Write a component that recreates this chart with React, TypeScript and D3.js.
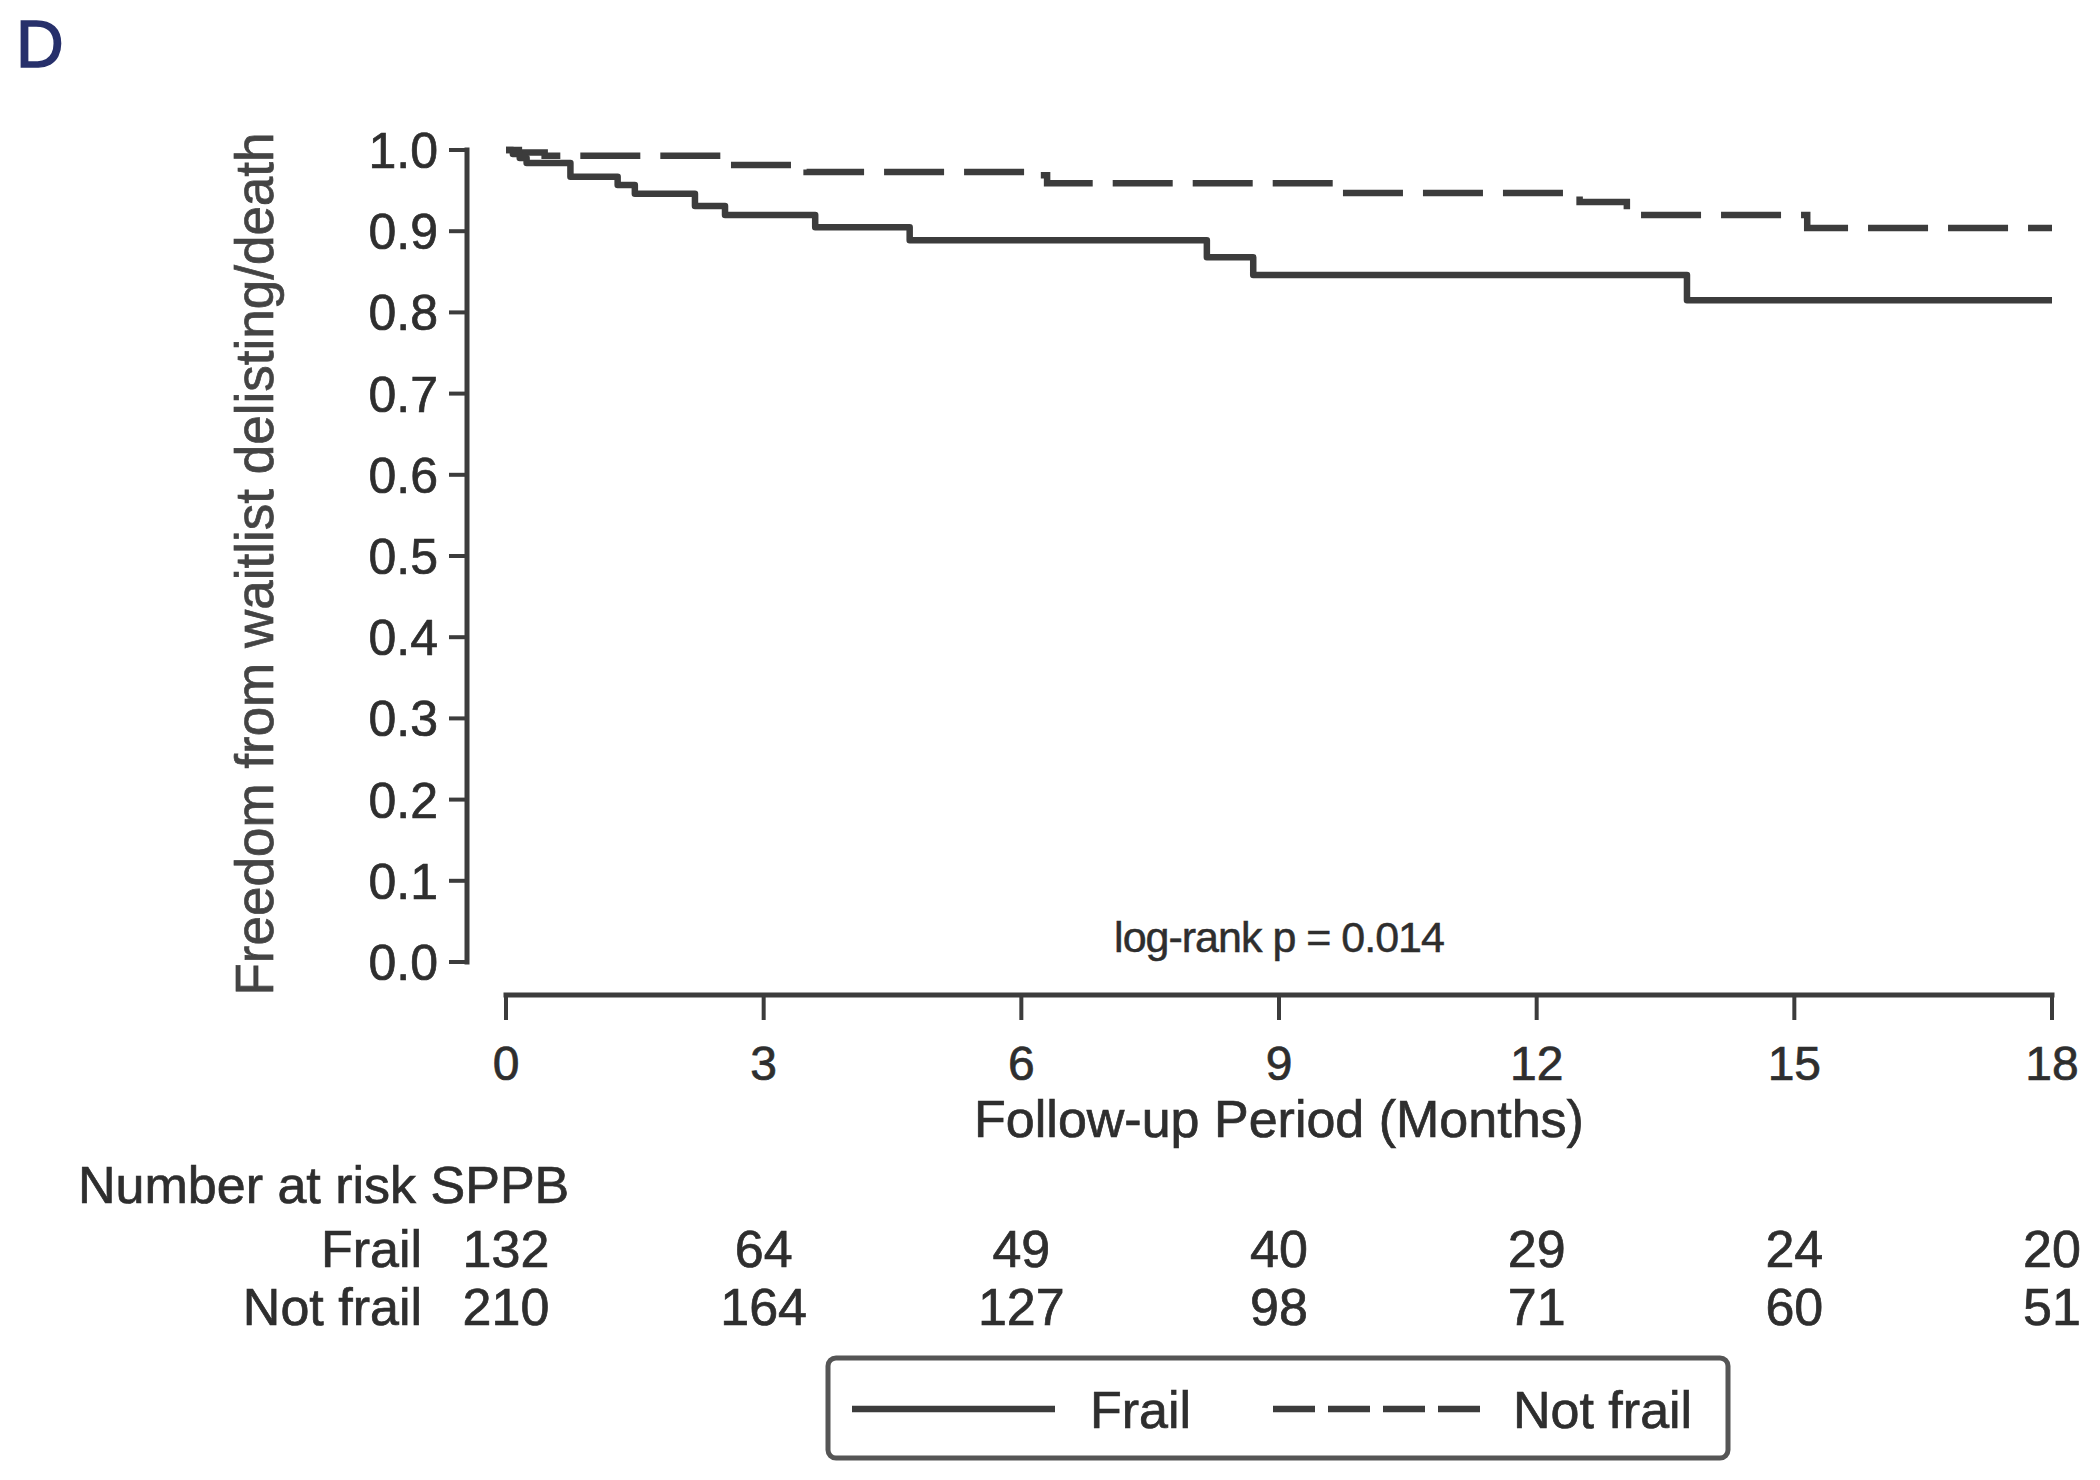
import React, { useEffect } from "react";
import * as d3 from "d3";

// ---- data ----
const frailTimes = [0, 0.08, 0.16, 0.24, 0.75, 1.3, 1.5, 2.2, 2.55, 3.6, 4.7, 8.16, 8.7, 13.75, 18];
const frailSurv = [1.0, 0.995, 0.99, 0.984, 0.967, 0.957, 0.946, 0.931, 0.92, 0.905, 0.889, 0.868, 0.846, 0.815, 0.815];

const notFrailTimes = [0, 0.15, 0.45, 2.6, 3.5, 6.1, 6.3, 9.7, 12.5, 13.05, 15.15, 18];
const notFrailSurv = [1.0, 0.997, 0.993, 0.9815, 0.973, 0.969, 0.959, 0.947, 0.936, 0.92, 0.904, 0.904];

const xTicks = [0, 3, 6, 9, 12, 15, 18];
const yTicks = [0, 0.1, 0.2, 0.3, 0.4, 0.5, 0.6, 0.7, 0.8, 0.9, 1.0];

const riskGroups = ["Frail", "Not frail"];
const riskFrail = [132, 64, 49, 40, 29, 24, 20];
const riskNotFrail = [210, 164, 127, 98, 71, 60, 51];

const FONT = "Arial, 'Liberation Sans', Helvetica, sans-serif";
const TEXT = "#2e2e2e";
const LINE = "#3c3c3c";
const TS = 0.7; // slight stroke to mimic the heavier rendering of the reference

export default function App() {
  useEffect(() => {
    document.body.style.margin = "0";
  }, []);

  const x = d3.scaleLinear().domain([0, 18]).range([506, 2052]);
  const y = d3.scaleLinear().domain([0, 1]).range([962, 150]);

  const line = d3
    .line<[number, number]>()
    .x((d) => x(d[0]))
    .y((d) => y(d[1]))
    .curve(d3.curveStepAfter);

  const frailPts: [number, number][] = frailTimes.map((t, i) => [t, frailSurv[i]]);
  const notFrailPts: [number, number][] = notFrailTimes.map((t, i) => [t, notFrailSurv[i]]);

  const xAxisY = 995;
  const yAxisX = 467;
  const riskRows = [riskFrail, riskNotFrail];
  const rowBaselines = [1267, 1325];

  return (
    <svg width={2100} height={1480} style={{ display: "block", background: "#fff" }} fontFamily={FONT}>
      {/* panel letter */}
      <text x={16} y={67} fontSize={66} fill="#27306b" stroke="#27306b" strokeWidth={1.6}>D</text>

      {/* y axis */}
      <line x1={yAxisX} x2={yAxisX} y1={y(0)} y2={y(1)} stroke={LINE} strokeWidth={5} strokeLinecap="square" />
      {yTicks.map((v) => (
        <g key={"yt" + v}>
          <line x1={449} x2={yAxisX} y1={y(v)} y2={y(v)} stroke={LINE} strokeWidth={4} />
          <text x={438} y={y(v)} dy="0.36em" textAnchor="end" fontSize={50} fill={TEXT} stroke={TEXT} strokeWidth={TS}>
            {d3.format(".1f")(v)}
          </text>
        </g>
      ))}
      <text
        transform={`translate(273, ${(y(0) + y(1)) / 2 + 8}) rotate(-90)`}
        textAnchor="middle"
        fontSize={53}
        fill="#444"
        stroke="#444"
        strokeWidth={TS}
      >
        Freedom from waitlist delisting/death
      </text>

      {/* x axis */}
      <line x1={x(0)} x2={x(18)} y1={xAxisY} y2={xAxisY} stroke={LINE} strokeWidth={5} strokeLinecap="square" />
      {xTicks.map((t) => (
        <g key={"xt" + t}>
          <line x1={x(t)} x2={x(t)} y1={xAxisY} y2={1020} stroke={LINE} strokeWidth={4} />
          <text x={x(t)} y={1080} textAnchor="middle" fontSize={48} fill={TEXT} stroke={TEXT} strokeWidth={TS}>
            {t}
          </text>
        </g>
      ))}
      <text x={x(9)} y={1137} textAnchor="middle" fontSize={52} fill={TEXT} stroke={TEXT} strokeWidth={TS}>
        Follow-up Period (Months)
      </text>

      {/* curves */}
      <path d={line(notFrailPts) || ""} fill="none" stroke={LINE} strokeWidth={6.5} strokeDasharray="60 20" />
      <path d={line(frailPts) || ""} fill="none" stroke={LINE} strokeWidth={6.5} strokeLinejoin="round" />

      {/* annotation */}
      <text x={x(9)} y={952} textAnchor="middle" fontSize={43} fill={TEXT} letterSpacing={-1} stroke={TEXT} strokeWidth={0.5}>
        log-rank p = 0.014
      </text>

      {/* number at risk */}
      <text x={78} y={1203} fontSize={52} fill={TEXT} stroke={TEXT} strokeWidth={TS}>Number at risk SPPB</text>
      {riskGroups.map((g, r) => (
        <g key={g}>
          <text x={422} y={rowBaselines[r]} textAnchor="end" fontSize={52} fill={TEXT} stroke={TEXT} strokeWidth={TS}>
            {g}
          </text>
          {riskRows[r].map((n, i) => (
            <text
              key={i}
              x={x(xTicks[i])}
              y={rowBaselines[r]}
              textAnchor="middle"
              fontSize={52}
              fill={TEXT}
              stroke={TEXT}
              strokeWidth={TS}
            >
              {n}
            </text>
          ))}
        </g>
      ))}

      {/* legend */}
      <rect x={828} y={1358} width={900} height={100} rx={8} fill="#fff" stroke="#555" strokeWidth={5} />
      <line x1={852} x2={1055} y1={1409} y2={1409} stroke={LINE} strokeWidth={6.5} />
      <text x={1090} y={1428} fontSize={52} fill={TEXT} stroke={TEXT} strokeWidth={TS}>Frail</text>
      <line x1={1273} x2={1480} y1={1409} y2={1409} stroke={LINE} strokeWidth={6.5} strokeDasharray="42 13" />
      <text x={1513} y={1428} fontSize={52} fill={TEXT} stroke={TEXT} strokeWidth={TS}>Not frail</text>
    </svg>
  );
}
